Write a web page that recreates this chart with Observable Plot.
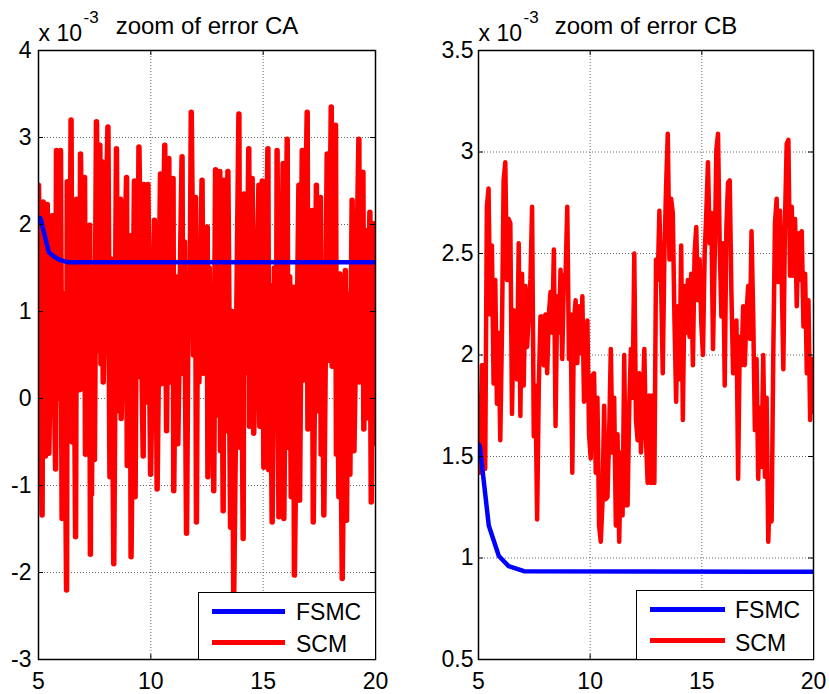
<!DOCTYPE html>
<html><head><meta charset="utf-8">
<script src="https://cdn.jsdelivr.net/npm/d3@7"></script>
<script src="https://cdn.jsdelivr.net/npm/@observablehq/plot@0.6"></script>
<style>
html,body{margin:0;padding:0;background:#fff;}
#wrap{position:relative;width:829px;height:694px;overflow:hidden;font-family:"Liberation Sans",Arial,Helvetica,sans-serif;color:#000;}
.panel{position:absolute;top:0;}
.legend{position:absolute;background:#fff;border:1px solid #000;box-sizing:border-box;}
.sw{position:absolute;height:5px;}
.lt{position:absolute;font-size:23px;line-height:1;white-space:nowrap;}
</style></head><body><div id="wrap"></div><script>
const FONT = '"Liberation Sans", Arial, Helvetica, sans-serif';
const xTicks = [5, 10, 15, 20];
const caTicks = [-3, -2, -1, 0, 1, 2, 3, 4];
const cbTicks = [0.5, 1, 1.5, 2, 2.5, 3, 3.5];
const seriesNames = ["FSMC", "SCM"];
const seriesColors = ["#0000ff", "#ff0000"];

// error CA, SCM (time, value x1e-3)
const caScmT = [5.00,5.16,5.21,5.31,5.39,5.46,5.61,5.76,5.80,5.91,5.98,6.05,6.15,6.25,6.28,6.39,6.45,6.50,6.58,6.65,6.69,6.84,6.87,6.96,7.05,7.09,7.28,7.31,7.33,7.36,7.42,7.49,7.58,7.69,7.73,7.78,7.83,7.88,8.09,8.18,8.26,8.35,8.47,8.53,8.65,8.68,8.92,8.95,9.09,9.12,9.27,9.30,9.36,9.42,9.47,9.66,9.69,9.81,9.87,9.99,10.16,10.19,10.23,10.28,10.43,10.46,10.62,10.70,10.80,10.85,10.99,11.02,11.11,11.20,11.39,11.42,11.50,11.59,11.66,11.74,11.80,11.90,11.99,12.03,12.08,12.14,12.28,12.33,12.51,12.54,12.60,12.66,12.73,12.80,12.88,12.95,13.07,13.10,13.16,13.22,13.25,13.40,13.43,13.55,13.62,13.69,13.92,13.96,14.03,14.11,14.14,14.25,14.36,14.39,14.51,14.58,14.81,14.85,14.96,15.03,15.21,15.25,15.32,15.40,15.50,15.59,15.62,15.70,15.89,15.92,16.07,16.10,16.18,16.25,16.36,16.39,16.59,16.62,16.74,16.77,16.96,16.99,17.18,17.23,17.37,17.40,17.55,17.58,17.64,17.70,17.85,17.92,18.03,18.07,18.22,18.26,18.31,18.37,18.41,18.52,18.66,18.71,18.78,18.86,18.96,19.04,19.26,19.29,19.44,19.48,19.55,19.63,19.75,19.81,19.90,19.93,20.00];
const caScmV = [2.45,-1.34,2.26,-0.66,2.23,-0.63,2.1,-0.81,2.85,0.0,2.85,-1.38,1.2,-2.2,2.49,0.25,3.2,-0.5,1.4,-1.59,2.29,0.1,2.81,0.3,2.54,-0.64,1.99,-1.79,1.0,-1.1,1.5,-0.7,3.18,0.55,2.91,0.4,2.72,0.19,3.12,-0.9,1.6,-1.9,2.87,-0.14,2.29,-0.23,2.54,-0.77,1.87,-1.82,2.5,-1.13,1.5,0.25,2.89,-0.66,2.46,-0.04,2.46,-0.87,2.05,-0.22,1.3,-1.04,2.58,0.17,2.91,-0.37,2.76,0.19,2.53,-1.06,1.4,-0.52,2.78,0.29,1.8,-1.55,1.2,0.86,3.29,0.5,2.31,-1.42,1.6,0.19,2.51,0.29,1.97,-0.9,1.5,-0.3,1.3,-1.06,2.63,-0.19,2.61,-0.6,1.2,-1.29,2.51,-0.37,2.61,-1.48,1.0,-2.25,3.27,-0.56,1.3,-1.61,2.35,0.3,2.87,-0.32,2.53,-0.4,2.45,-0.32,2.5,-0.79,2.87,-0.82,1.3,-1.42,1.5,-0.14,2.85,-1.36,2.7,-1.38,2.98,-0.56,1.4,-1.13,1.28,-2.03,2.45,-1.17,2.85,0.21,3.29,-0.35,2.16,-1.42,2.45,-0.14,2.31,-0.64,1.2,-1.34,2.81,0.44,3.35,0.37,3.14,-0.64,1.0,-1.13,1.43,-2.07,1.47,-1.4,1.2,-0.87,2.28,-0.6,2.98,0.19,2.6,-0.35,1.93,-0.22,2.14,-1.19,2.01,-0.52,1.75];

// error CA, FSMC
const caFsmcT = [5, 5.09, 5.46, 5.7, 5.98, 6.28, 20];
const caFsmcV = [2.08, 2.07, 1.68, 1.63, 1.59, 1.567, 1.567];

// error CB, SCM sampled every 0.075 from t = 5
const cbStart = 5, cbStep = 0.075;
const cbScmV = [
1.8,1.42,1.95,1.95,1.44,2.73,2.82,2.2,2.54,1.86,
2.37,1.76,2.11,1.58,2.11,2.86,2.95,2.37,2.67,2.65,
1.71,2.22,2.17,1.88,2.55,1.7,2.4,1.85,2.34,2.04,
2.19,2.37,2.73,1.6,1.85,1.19,1.85,2.19,2.19,1.95,
2.2,1.91,2.2,2.31,2.11,2.52,1.65,2.29,2.11,2.42,
1.98,2.39,
2.4,2.73,1.98,2.2,1.42,2.17,2.27,1.96,2.24,2.01,
2.29,1.77,1.8,2.17,1.61,1.49,1.9,1.91,1.42,1.79,
1.16,1.08,1.27,1.75,1.29,1.3,1.61,2.03,1.52,1.79,
1.16,1.61,1.08,1.52,1.21,2.0,1.26,1.26,1.75,2.03,
1.79,2.5,1.68,1.58,1.91,1.52,1.75,2.03,1.58,1.37,
1.8,1.37,1.8,1.37,2.47,2.37,2.71,2.36,1.91,2.5,
2.83,3.09,2.47,2.77,2.7,2.17,1.77,2.24,1.88,2.54,
1.68,2.34,2.11,2.37,2.09,2.4,1.95,2.5,2.63,2.27,
2.47,2.16,2.0,2.49,2.7,2.95,2.55,2.7,2.03,2.47,
3.01,3.09,2.54,2.19,2.55,1.85,2.63,2.85,2.86,2.3,
1.91,
1.96,2.17,1.39,2.09,1.95,2.24,1.95,2.2,2.34,2.08,
2.61,2.2,1.63,1.98,1.39,1.74,1.45,2.0,1.4,1.79,
1.08,1.36,1.18,2.01,2.65,2.77,2.36,2.71,2.39,1.93,
2.67,3.04,3.06,2.39,2.73,2.39,2.67,2.24,2.6,2.37,
2.61,2.14,2.4,1.91,2.27,1.68,1.98,1.72];

// error CB, FSMC
const cbFsmcT = [5, 5.06, 5.46, 5.91, 6.35, 7.03, 20];
const cbFsmcV = [1.56, 1.55, 1.16, 1.01, 0.96, 0.935, 0.932];

const caScm = caScmT.map((t, i) => ({t, v: caScmV[i]}));
const caFsmc = caFsmcT.map((t, i) => ({t, v: caFsmcV[i]}));
const cbScm = cbScmV.map((v, i) => ({t: cbStart + i * cbStep, v}));
const cbFsmc = cbFsmcT.map((t, i) => ({t, v: cbFsmcV[i]}));

function panel(o) {
  const x0 = xTicks[0], x1 = xTicks[xTicks.length - 1];
  const y0 = o.yTicks[0], y1 = o.yTicks[o.yTicks.length - 1];
  const mt = 50, mb = 35, H = 694;
  const tx = (x1 - x0) * 5 / (o.width - o.marginLeft - o.marginRight);
  const ty = (y1 - y0) * 5 / (H - mt - mb);
  const grid = {stroke: "#555", strokeOpacity: 0.9, strokeDasharray: "1,2", strokeWidth: 1};
  return Plot.plot({
    width: o.width, height: H,
    marginTop: mt, marginBottom: mb, marginLeft: o.marginLeft, marginRight: o.marginRight,
    style: {fontFamily: FONT, fontSize: "23px", color: "#000", background: "transparent", overflow: "visible"},
    x: {domain: [x0, x1], label: null},
    y: {domain: [y0, y1], label: null},
    marks: [
      Plot.ruleX(xTicks.slice(1, -1), grid),
      Plot.ruleY(o.yTicks.slice(1, -1), grid),
      Plot.line(o.scm, {x: "t", y: "v", stroke: seriesColors[1], strokeWidth: o.sw, strokeLinejoin: "round", strokeLinecap: "round", clip: true}),
      Plot.line(o.fsmc, {x: "t", y: "v", stroke: seriesColors[0], strokeWidth: 4.5, strokeLinejoin: "round", strokeLinecap: "round", clip: true}),
      Plot.ruleY(o.yTicks, {x1: x0, x2: x0 + tx, stroke: "#000"}),
      Plot.ruleY(o.yTicks, {x1: x1 - tx, x2: x1, stroke: "#000"}),
      Plot.ruleX(xTicks, {y1: y0, y2: y0 + ty, stroke: "#000"}),
      Plot.ruleX(xTicks, {y1: y1 - ty, y2: y1, stroke: "#000"}),
      Plot.frame({stroke: "#000", strokeWidth: 1.5}),
      Plot.axisX({ticks: xTicks, tickSize: 0, tickPadding: 13, fontSize: 23, tickFormat: d => String(d)}),
      Plot.axisY({ticks: o.yTicks, tickSize: 0, tickPadding: o.pad, fontSize: 23, tickFormat: d => String(d)}),
      Plot.text([o.title], {text: d => d, frameAnchor: "top", lineAnchor: "bottom", dy: -17, fontSize: 24}),
      Plot.text(["x 10"], {text: d => d, frameAnchor: "top-left", textAnchor: "start", lineAnchor: "bottom", dy: -10, fontSize: 23}),
      Plot.text(["-3"], {text: d => d, frameAnchor: "top-left", textAnchor: "start", lineAnchor: "bottom", dx: 45, dy: -28, fontSize: 17})
    ]
  });
}

const wrap = document.getElementById("wrap");
function addPanel(svg, left) {
  svg.classList.add("panel");
  svg.style.left = left + "px";
  wrap.appendChild(svg);
}
addPanel(panel({width: 400, marginLeft: 38, marginRight: 25, yTicks: caTicks, scm: caScm, fsmc: caFsmc, title: "zoom of error CA", pad: 7, sw: 5.5}), 0);
addPanel(panel({width: 419, marginLeft: 68, marginRight: 16, yTicks: cbTicks, scm: cbScm, fsmc: cbFsmc, title: "zoom of error CB", pad: 5, sw: 4.5}), 410);

function addLegend(box) {
  const d = document.createElement("div");
  d.className = "legend";
  Object.assign(d.style, {left: box.left + "px", top: box.top + "px", width: box.width + "px", height: box.height + "px"});
  seriesNames.forEach((name, i) => {
    const s = document.createElement("div");
    s.className = "sw";
    Object.assign(s.style, {left: box.swLeft + "px", width: box.swWidth + "px", top: box.swTop[i] + "px", background: seriesColors[i]});
    d.appendChild(s);
    const t = document.createElement("div");
    t.className = "lt";
    t.textContent = name;
    Object.assign(t.style, {left: box.textLeft + "px", top: box.textTop[i] + "px"});
    d.appendChild(t);
  });
  wrap.appendChild(d);
}
addLegend({left: 198, top: 592, width: 178, height: 68, swLeft: 13, swWidth: 73, swTop: [16, 47], textLeft: 97, textTop: [8, 40]});
addLegend({left: 636, top: 590, width: 178, height: 70, swLeft: 13, swWidth: 75, swTop: [16, 47], textLeft: 98, textTop: [8, 41]});
</script></body></html>
